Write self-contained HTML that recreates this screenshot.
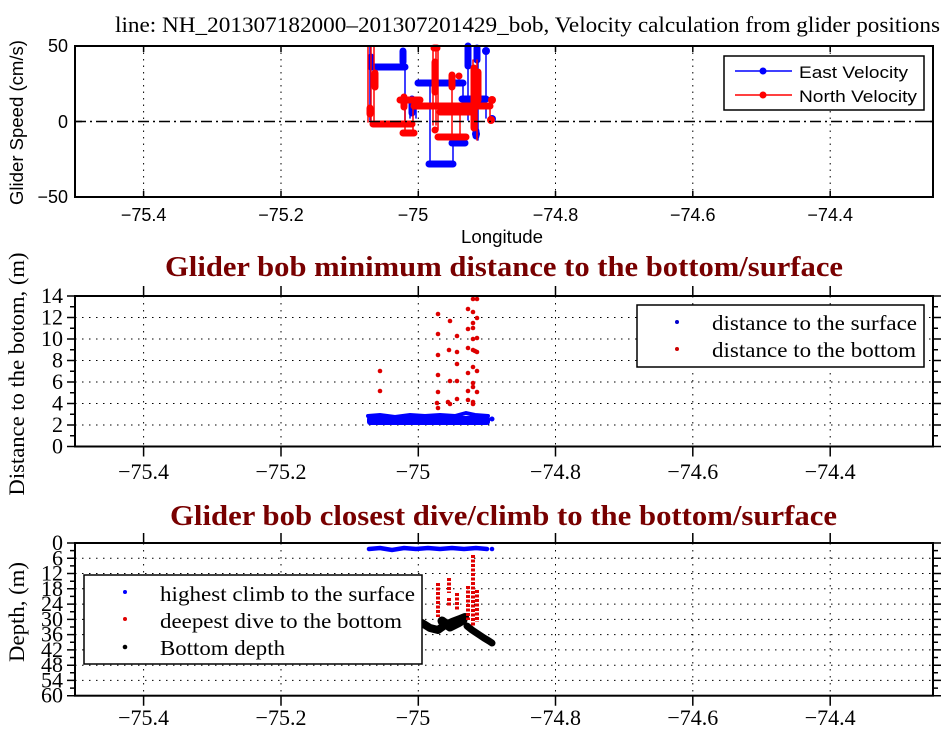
<!DOCTYPE html>
<html><head><meta charset="utf-8"><style>
html,body{margin:0;padding:0;background:#fff;}
svg{display:block;}
.sans{font-family:"Liberation Sans",Arial,sans-serif;}
.serif{font-family:"Liberation Serif","Times New Roman",serif;}
</style></head><body>
<svg width="950" height="730" viewBox="0 0 950 730" xmlns="http://www.w3.org/2000/svg">
<rect width="950" height="730" fill="#fff"/>

<!-- ================= TOP CHART ================= -->
<text class="serif" x="115" y="32" font-size="22" textLength="825" lengthAdjust="spacingAndGlyphs">line: NH_201307182000–201307201429_bob, Velocity calculation from glider positions</text>

<g stroke="#000" stroke-width="1" stroke-dasharray="1.5 5">
<line x1="143.6" y1="46" x2="143.6" y2="197"/>
<line x1="281" y1="46" x2="281" y2="197"/>
<line x1="418.3" y1="46" x2="418.3" y2="197"/>
<line x1="555.5" y1="46" x2="555.5" y2="197"/>
<line x1="692.8" y1="46" x2="692.8" y2="197"/>
<line x1="830.2" y1="46" x2="830.2" y2="197"/>
</g>

<!-- data top -->
<g fill="none" stroke-linecap="round" stroke-linejoin="round">
 <g stroke="#0000ff" stroke-width="1.5">
  <path d="M370,46V120 M372,67H407 M405,50V120 M410,98V118 M418,83H463 M430,83V164 M430,164H453 M453,143V164 M452,143H465 M468,46V120 M478,46V140 M486,52V118 M470,99H487 M463,83V99 M416,100V118"/>
 </g>
 <g stroke="#0000ff" stroke-width="7">
  <path d="M371,57V67 M373,67H405 M403,51V62 M412,99V113 M418,83H463 M429,164H453 M452,143H465 M468,46V66 M477,48V60 M462,99H486 M476,131V136"/>
 </g>
 <g fill="#0000ff"><circle cx="486" cy="51" r="4"/><circle cx="492" cy="119" r="4"/><circle cx="476" cy="134" r="4"/><circle cx="465" cy="112" r="3.5"/></g>
 <g stroke="#ff0000" stroke-width="1.5">
  <path d="M368,46V122 M371,46V122 M374,46V120 M433,46V125 M436,46V125 M438,46V130 M473,60V130 M477,60V140 M452,75V137 M405,100V133 M490,100V120 M460,105V137 M413,105V133"/>
 </g>
 <g stroke="#ff0000" stroke-width="7">
  <path d="M373,124H412 M375,73V87 M370,108V114 M403,133H414 M400,100H420 M404,97V107 M414,106H490 M434,48H437 M435,62V92 M438,137H466 M452,75V87 M474,68V128 M478,72V100 M440,112H470"/>
 </g>
 <g fill="#ff0000"><circle cx="491" cy="120" r="4"/><circle cx="492" cy="100" r="4"/><circle cx="435" cy="130" r="3.5"/><circle cx="459" cy="76" r="3.5"/></g>
</g>

<line x1="75" y1="121.5" x2="933" y2="121.5" stroke="#000" stroke-width="1.5" stroke-dasharray="11 4 2 4"/>

<rect x="75" y="46" width="858" height="151" fill="none" stroke="#000" stroke-width="2"/>
<g stroke="#000" stroke-width="1.5">
<path d="M143.6,46v6 M281,46v6 M418.3,46v6 M555.5,46v6 M692.8,46v6 M830.2,46v6 M143.6,197v-6 M281,197v-6 M418.3,197v-6 M555.5,197v-6 M692.8,197v-6 M830.2,197v-6 M75,121.5h7 M933,121.5h-7"/>
</g>
<g class="sans" font-size="18" text-anchor="middle">
<text x="143.6" y="221">−75.4</text>
<text x="281" y="221">−75.2</text>
<text x="413" y="221">−75</text>
<text x="555.5" y="221">−74.8</text>
<text x="692.8" y="221">−74.6</text>
<text x="830.2" y="221">−74.4</text>
</g>
<g class="sans" font-size="18" text-anchor="end">
<text x="68" y="52">50</text>
<text x="68" y="128">0</text>
<text x="68" y="203">−50</text>
</g>
<text class="sans" x="502" y="243" font-size="18" text-anchor="middle" textLength="82" lengthAdjust="spacingAndGlyphs">Longitude</text>
<text class="sans" transform="translate(23,122.5) rotate(-90)" font-size="18" text-anchor="middle" textLength="165" lengthAdjust="spacingAndGlyphs">Glider Speed (cm/s)</text>

<rect x="724" y="56" width="200" height="54" fill="#fff" stroke="#000" stroke-width="1.5"/>
<line x1="735" y1="71" x2="792" y2="71" stroke="#0000ff" stroke-width="1.5"/>
<circle cx="763" cy="71" r="3.5" fill="#0000ff"/>
<line x1="735" y1="95" x2="792" y2="95" stroke="#ff0000" stroke-width="1.5"/>
<circle cx="763" cy="95" r="3.5" fill="#ff0000"/>
<text class="sans" x="799" y="78" font-size="17" textLength="109" lengthAdjust="spacingAndGlyphs">East Velocity</text>
<text class="sans" x="799" y="102" font-size="17" textLength="118" lengthAdjust="spacingAndGlyphs">North Velocity</text>

<!-- ================= MIDDLE CHART ================= -->
<text class="serif" x="165" y="276" font-size="28" font-weight="bold" fill="#780000" textLength="678" lengthAdjust="spacingAndGlyphs">Glider bob minimum distance to the bottom/surface</text>

<g stroke="#000" stroke-width="1" stroke-dasharray="1.5 5.5">
<line x1="143.6" y1="296" x2="143.6" y2="446.5"/>
<line x1="281" y1="296" x2="281" y2="446.5"/>
<line x1="418.3" y1="296" x2="418.3" y2="446.5"/>
<line x1="555.5" y1="296" x2="555.5" y2="446.5"/>
<line x1="692.8" y1="296" x2="692.8" y2="446.5"/>
<line x1="830.2" y1="296" x2="830.2" y2="446.5"/>
<line x1="75" y1="425" x2="933" y2="425"/>
<line x1="75" y1="403.5" x2="933" y2="403.5"/>
<line x1="75" y1="382" x2="933" y2="382"/>
<line x1="75" y1="360.5" x2="933" y2="360.5"/>
<line x1="75" y1="339" x2="933" y2="339"/>
<line x1="75" y1="317.5" x2="933" y2="317.5"/>
</g>

<!-- blue band -->
<rect x="367" y="416" width="123" height="9" rx="3" fill="#0000ff"/>
<polyline fill="none" stroke="#0000ff" stroke-width="4" stroke-linecap="round" points="368,416 380,415 395,417 410,415 425,416 440,415 455,416 466,413 475,415 488,416"/>
<circle cx="492" cy="419" r="2.5" fill="#0000ff"/>
<g fill="#dd0000">
<circle cx="380" cy="371" r="2.3"/><circle cx="380" cy="391" r="2.3"/>
<circle cx="438" cy="314" r="2.3"/><circle cx="438" cy="334" r="2.3"/><circle cx="438" cy="355" r="2.3"/><circle cx="438" cy="375" r="2.3"/><circle cx="438" cy="392" r="2.3"/><circle cx="437" cy="403" r="2.3"/><circle cx="438" cy="408" r="2.3"/>
<circle cx="450" cy="321" r="2.3"/><circle cx="449" cy="350" r="2.3"/><circle cx="450" cy="381" r="2.3"/><circle cx="448" cy="402" r="2.3"/><circle cx="450" cy="404" r="2.3"/>
<circle cx="457" cy="336" r="2.3"/><circle cx="457" cy="352" r="2.3"/><circle cx="457" cy="364" r="2.3"/><circle cx="457" cy="381" r="2.3"/><circle cx="457" cy="399" r="2.3"/>
<circle cx="468" cy="309" r="2.3"/><circle cx="468" cy="329" r="2.3"/><circle cx="468" cy="348" r="2.3"/><circle cx="468" cy="373" r="2.3"/><circle cx="468" cy="391" r="2.3"/><circle cx="468" cy="400" r="2.3"/>
<circle cx="473" cy="299" r="2.3"/><circle cx="477" cy="299" r="2.3"/><circle cx="473" cy="312" r="2.3"/><circle cx="477" cy="318" r="2.3"/><circle cx="473" cy="323" r="2.3"/><circle cx="473" cy="328" r="2.3"/><circle cx="477" cy="338" r="2.3"/><circle cx="473" cy="339" r="2.3"/><circle cx="473" cy="350" r="2.3"/><circle cx="477" cy="352" r="2.3"/><circle cx="475" cy="351" r="2.3"/><circle cx="473" cy="367" r="2.3"/><circle cx="477" cy="371" r="2.3"/><circle cx="473" cy="383" r="2.3"/><circle cx="473" cy="387" r="2.3"/><circle cx="477" cy="392" r="2.3"/><circle cx="473" cy="402" r="2.3"/><circle cx="473" cy="404" r="2.3"/>
</g>

<rect x="75" y="296" width="858" height="150.5" fill="none" stroke="#000" stroke-width="2"/>
<g stroke="#000" stroke-width="1.5">
<path d="M143.6,296v-10 M281,296v-10 M418.3,296v-10 M555.5,296v-10 M692.8,296v-10 M830.2,296v-10 M143.6,446.5v10 M281,446.5v10 M418.3,446.5v10 M555.5,446.5v10 M692.8,446.5v10 M830.2,446.5v10"/>
<path d="M75,446.5h-8 M75,425h-8 M75,403.5h-8 M75,382h-8 M75,360.5h-8 M75,339h-8 M75,317.5h-8 M75,296h-8 M75,435.75h-5 M75,414.25h-5 M75,392.75h-5 M75,371.25h-5 M75,349.75h-5 M75,328.25h-5 M75,306.75h-5"/>
<path d="M933,446.5h8 M933,425h8 M933,403.5h8 M933,382h8 M933,360.5h8 M933,339h8 M933,317.5h8 M933,296h8 M933,435.75h5 M933,414.25h5 M933,392.75h5 M933,371.25h5 M933,349.75h5 M933,328.25h5 M933,306.75h5"/>
</g>
<g class="serif" font-size="22" text-anchor="end">
<text x="63" y="453.5">0</text>
<text x="63" y="432">2</text>
<text x="63" y="410.5">4</text>
<text x="63" y="389">6</text>
<text x="63" y="367.5">8</text>
<text x="63" y="346">10</text>
<text x="63" y="324.5">12</text>
<text x="63" y="303">14</text>
</g>
<g class="serif" font-size="22" text-anchor="middle">
<text x="143.6" y="479">−75.4</text>
<text x="281" y="479">−75.2</text>
<text x="413" y="479">−75</text>
<text x="555.5" y="479">−74.8</text>
<text x="692.8" y="479">−74.6</text>
<text x="830.2" y="479">−74.4</text>
</g>
<text class="serif" transform="translate(24,374) rotate(-90)" font-size="22" text-anchor="middle" textLength="243" lengthAdjust="spacingAndGlyphs">Distance to the botom, (m)</text>

<rect x="637" y="305" width="287" height="62" fill="#fff" stroke="#000" stroke-width="1.5"/>
<circle cx="677" cy="322" r="2" fill="#0000cc"/>
<circle cx="677" cy="349" r="2" fill="#cc0000"/>
<text class="serif" x="712" y="330" font-size="21" textLength="205" lengthAdjust="spacingAndGlyphs">distance to the surface</text>
<text class="serif" x="712" y="357" font-size="21" textLength="204" lengthAdjust="spacingAndGlyphs">distance to the bottom</text>

<!-- ================= BOTTOM CHART ================= -->
<text class="serif" x="170" y="525" font-size="28" font-weight="bold" fill="#780000" textLength="667" lengthAdjust="spacingAndGlyphs">Glider bob closest dive/climb to the bottom/surface</text>

<g stroke="#000" stroke-width="1" stroke-dasharray="1.5 5.5">
<line x1="143.6" y1="543" x2="143.6" y2="695.7"/>
<line x1="281" y1="543" x2="281" y2="695.7"/>
<line x1="418.3" y1="543" x2="418.3" y2="695.7"/>
<line x1="555.5" y1="543" x2="555.5" y2="695.7"/>
<line x1="692.8" y1="543" x2="692.8" y2="695.7"/>
<line x1="830.2" y1="543" x2="830.2" y2="695.7"/>
<line x1="75" y1="558.3" x2="933" y2="558.3"/>
<line x1="75" y1="573.5" x2="933" y2="573.5"/>
<line x1="75" y1="588.8" x2="933" y2="588.8"/>
<line x1="75" y1="604.1" x2="933" y2="604.1"/>
<line x1="75" y1="619.4" x2="933" y2="619.4"/>
<line x1="75" y1="634.6" x2="933" y2="634.6"/>
<line x1="75" y1="649.9" x2="933" y2="649.9"/>
<line x1="75" y1="665.2" x2="933" y2="665.2"/>
<line x1="75" y1="680.4" x2="933" y2="680.4"/>
</g>

<polyline fill="none" stroke="#0000ff" stroke-width="4.5" stroke-linecap="round" points="369,549 380,548 392,550 404,548 416,549 428,548 440,549 452,548 464,549 476,548 487,549"/>
<circle cx="492" cy="549" r="2.3" fill="#0000ff"/>
<g fill="none" stroke="#000" stroke-linecap="round" stroke-linejoin="round">
<polyline stroke-width="8" points="380,618 395,620 410,621 422,623 430,628 438,630 445,625 452,622 460,619 465,617"/>
<polyline stroke-width="9" points="442,621 450,627 458,623 463,620"/>
<polyline stroke-width="7" points="467,626 472,630 478,634 484,638 489,641 492,643"/>
</g>
<g fill="none" stroke="#e00000" stroke-width="4" stroke-dasharray="3 1.5">
<line x1="438" y1="583" x2="438" y2="617"/>
<line x1="449" y1="578" x2="449" y2="593"/>
<line x1="449" y1="598" x2="449" y2="607"/>
<line x1="457" y1="593" x2="457" y2="611"/>
<line x1="468" y1="586" x2="468" y2="620"/>
<line x1="473" y1="555" x2="473" y2="626"/>
<line x1="477" y1="590" x2="477" y2="622"/>
</g>

<rect x="75" y="543" width="858" height="152.7" fill="none" stroke="#000" stroke-width="2"/>
<g stroke="#000" stroke-width="1.5">
<path d="M143.6,543v-10 M281,543v-10 M418.3,543v-10 M555.5,543v-10 M692.8,543v-10 M830.2,543v-10 M143.6,695.7v10 M281,695.7v10 M418.3,695.7v10 M555.5,695.7v10 M692.8,695.7v10 M830.2,695.7v10"/>
<path d="M75,543h-8 M75,558.3h-8 M75,573.5h-8 M75,588.8h-8 M75,604.1h-8 M75,619.4h-8 M75,634.6h-8 M75,649.9h-8 M75,665.2h-8 M75,680.4h-8 M75,695.7h-8 M75,550.6h-5 M75,565.9h-5 M75,581.2h-5 M75,596.4h-5 M75,611.7h-5 M75,627h-5 M75,642.3h-5 M75,657.5h-5 M75,672.8h-5 M75,688.1h-5"/>
<path d="M933,543h8 M933,558.3h8 M933,573.5h8 M933,588.8h8 M933,604.1h8 M933,619.4h8 M933,634.6h8 M933,649.9h8 M933,665.2h8 M933,680.4h8 M933,695.7h8 M933,550.6h5 M933,565.9h5 M933,581.2h5 M933,596.4h5 M933,611.7h5 M933,627h5 M933,642.3h5 M933,657.5h5 M933,672.8h5 M933,688.1h5"/>
</g>
<g class="serif" font-size="22" text-anchor="end">
<text x="63" y="550">0</text>
<text x="63" y="565.3">6</text>
<text x="63" y="580.5">12</text>
<text x="63" y="595.8">18</text>
<text x="63" y="611.1">24</text>
<text x="63" y="626.4">30</text>
<text x="63" y="641.6">36</text>
<text x="63" y="656.9">42</text>
<text x="63" y="672.2">48</text>
<text x="63" y="687.4">54</text>
<text x="63" y="702.7">60</text>
</g>
<g class="serif" font-size="22" text-anchor="middle">
<text x="143.6" y="725">−75.4</text>
<text x="281" y="725">−75.2</text>
<text x="413" y="725">−75</text>
<text x="555.5" y="725">−74.8</text>
<text x="692.8" y="725">−74.6</text>
<text x="830.2" y="725">−74.4</text>
</g>
<text class="serif" transform="translate(24,612) rotate(-90)" font-size="22" text-anchor="middle" textLength="100" lengthAdjust="spacingAndGlyphs">Depth, (m)</text>

<rect x="84" y="575" width="338" height="89" fill="#fff" stroke="#000" stroke-width="1.5"/>
<circle cx="125" cy="592" r="2" fill="#0000ff"/>
<circle cx="125" cy="619" r="2" fill="#e00000"/>
<circle cx="125" cy="647" r="2.3" fill="#000"/>
<text class="serif" x="160" y="601" font-size="21" textLength="255" lengthAdjust="spacingAndGlyphs">highest climb to the surface</text>
<text class="serif" x="160" y="628" font-size="21" textLength="242" lengthAdjust="spacingAndGlyphs">deepest dive to the bottom</text>
<text class="serif" x="160" y="655" font-size="21" textLength="125" lengthAdjust="spacingAndGlyphs">Bottom depth</text>
</svg>
</body></html>
